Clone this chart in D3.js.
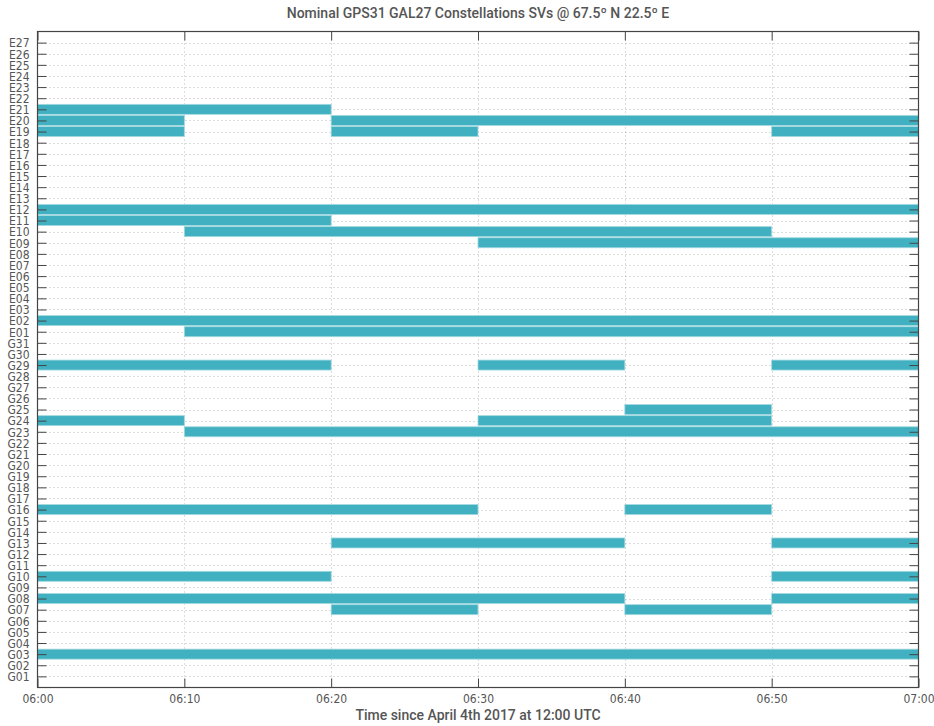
<!DOCTYPE html>
<html>
<head>
<meta charset="utf-8">
<script src="https://cdn.jsdelivr.net/npm/d3@7"></script>
<style>
  body { margin: 0; background: #fff; }
  svg { display: block; font-family: "DejaVu Sans Condensed", "DejaVu Sans", sans-serif; }
</style>
</head>
<body>
<div id="chart"></div>
<script>
// satellite rows, top to bottom
const svLabels = [
  "E27","E26","E25","E24","E23","E22","E21","E20","E19","E18","E17","E16","E15","E14",
  "E13","E12","E11","E10","E09","E08","E07","E06","E05","E04","E03","E02","E01",
  "G31","G30","G29","G28","G27","G26","G25","G24","G23","G22","G21","G20","G19","G18",
  "G17","G16","G15","G14","G13","G12","G11","G10","G09","G08","G07","G06","G05","G04",
  "G03","G02","G01"
];

// visibility intervals (one entry per bar)
const passSv    = ["E21","E20","E20","E19","E19","E19","E12","E11","E10","E09","E02","E01",
                   "G29","G29","G29","G25","G24","G24","G23","G16","G16","G13","G13",
                   "G10","G10","G08","G08","G07","G07","G03"];
const passStart = ["06:00","06:00","06:20","06:00","06:20","06:50","06:00","06:00","06:10","06:30","06:00","06:10",
                   "06:00","06:30","06:50","06:40","06:00","06:30","06:10","06:00","06:40","06:20","06:50",
                   "06:00","06:50","06:00","06:50","06:20","06:40","06:00"];
const passEnd   = ["06:20","06:10","07:00","06:10","06:30","07:00","07:00","06:20","06:50","07:00","07:00","07:00",
                   "06:20","06:40","07:00","06:50","06:10","06:50","07:00","06:30","06:50","06:40","07:00",
                   "06:20","07:00","06:40","07:00","06:30","06:50","07:00"];

const xTicks = ["06:00","06:10","06:20","06:30","06:40","06:50","07:00"];

const titleText = "Nominal GPS31 GAL27 Constellations SVs @ 67.5º N 22.5º E";
const xLabelText = "Time since April 4th 2017 at 12:00 UTC";

const width = 934, height = 726;
const plotLeft = 37.5, plotRight = 918.5, plotTop = 31.5, plotBottom = 687.5;
const barColor = "#41b1c1";
const textColor = "#555";

const parse = d3.timeParse("%H:%M");
const fmt = d3.timeFormat("%H:%M");

const x = d3.scaleTime()
  .domain([parse(xTicks[0]), parse(xTicks[xTicks.length - 1])])
  .range([plotLeft, plotRight]);

const y = d3.scalePoint()
  .domain(svLabels)
  .range([plotTop, plotBottom])
  .padding(1);

const svg = d3.select("#chart").append("svg")
  .attr("width", width)
  .attr("height", height);

// dotted grid
const grid = svg.append("g");
grid.selectAll("line.h")
  .data(svLabels)
  .enter().append("line")
  .attr("x1", plotLeft).attr("x2", plotRight)
  .attr("y1", d => Math.round(y(d)) + 0.5)
  .attr("y2", d => Math.round(y(d)) + 0.5)
  .attr("stroke", "#aaa")
  .attr("stroke-width", 0.8)
  .attr("stroke-dasharray", "1,3");

grid.selectAll("line.v")
  .data(xTicks.slice(1, -1))
  .enter().append("line")
  .attr("x1", d => Math.round(x(parse(d))) + 0.5)
  .attr("x2", d => Math.round(x(parse(d))) + 0.5)
  .attr("y1", plotTop).attr("y2", plotBottom)
  .attr("stroke", "#aaa")
  .attr("stroke-width", 0.8)
  .attr("stroke-dasharray", "1,3");

// bars
const passes = passSv.map((sv, i) => ({ sv: sv, start: parse(passStart[i]), end: parse(passEnd[i]) }));
svg.append("g").selectAll("rect")
  .data(passes)
  .enter().append("rect")
  .attr("x", d => x(d.start))
  .attr("width", d => x(d.end) - x(d.start))
  .attr("y", d => y(d.sv) - 5)
  .attr("height", 10)
  .attr("fill", barColor)
  .attr("stroke", "#a3d9e0")
  .attr("stroke-width", 0.8);

// axes (ticks inward, on all four sides)
const yLeft = svg.append("g")
  .attr("transform", `translate(${plotLeft},0)`)
  .call(d3.axisLeft(y).tickSize(-9).tickPadding(8));
const yRight = svg.append("g")
  .attr("transform", `translate(${plotRight},0)`)
  .call(d3.axisRight(y).tickSize(-9).tickFormat(""));
const xBottom = svg.append("g")
  .attr("transform", `translate(0,${plotBottom})`)
  .call(d3.axisBottom(x).tickValues(xTicks.map(parse)).tickFormat(fmt).tickSize(-9).tickPadding(7));
const xTop = svg.append("g")
  .attr("transform", `translate(0,${plotTop})`)
  .call(d3.axisTop(x).tickValues(xTicks.map(parse)).tickSize(-9).tickFormat(""));

[yLeft, yRight, xBottom, xTop].forEach(g => {
  g.select(".domain").remove();
  g.selectAll(".tick line").attr("stroke", "#444").attr("stroke-width", 1);
  g.selectAll("text")
    .attr("fill", textColor)
    .style("font-size", "12px")
    .style("font-family", '"DejaVu Sans Condensed", sans-serif');
});
yLeft.selectAll("text").attr("dy", "0.36em");

// frame
svg.append("rect")
  .attr("x", plotLeft).attr("y", plotTop)
  .attr("width", plotRight - plotLeft).attr("height", plotBottom - plotTop)
  .attr("fill", "none")
  .attr("stroke", "#444")
  .attr("stroke-width", 1.2);

// title and axis label
svg.append("text")
  .attr("x", (plotLeft + plotRight) / 2)
  .attr("y", 17.5)
  .attr("text-anchor", "middle")
  .attr("fill", textColor)
  .style("font-family", "Roboto, sans-serif")
  .style("font-size", "14px")
  .style("font-weight", 500)
  .text(titleText);

svg.append("text")
  .attr("x", (plotLeft + plotRight) / 2)
  .attr("y", 720)
  .attr("text-anchor", "middle")
  .attr("fill", textColor)
  .style("font-family", "Roboto, sans-serif")
  .style("font-size", "14px")
  .style("font-weight", 500)
  .text(xLabelText);
</script>
</body>
</html>
